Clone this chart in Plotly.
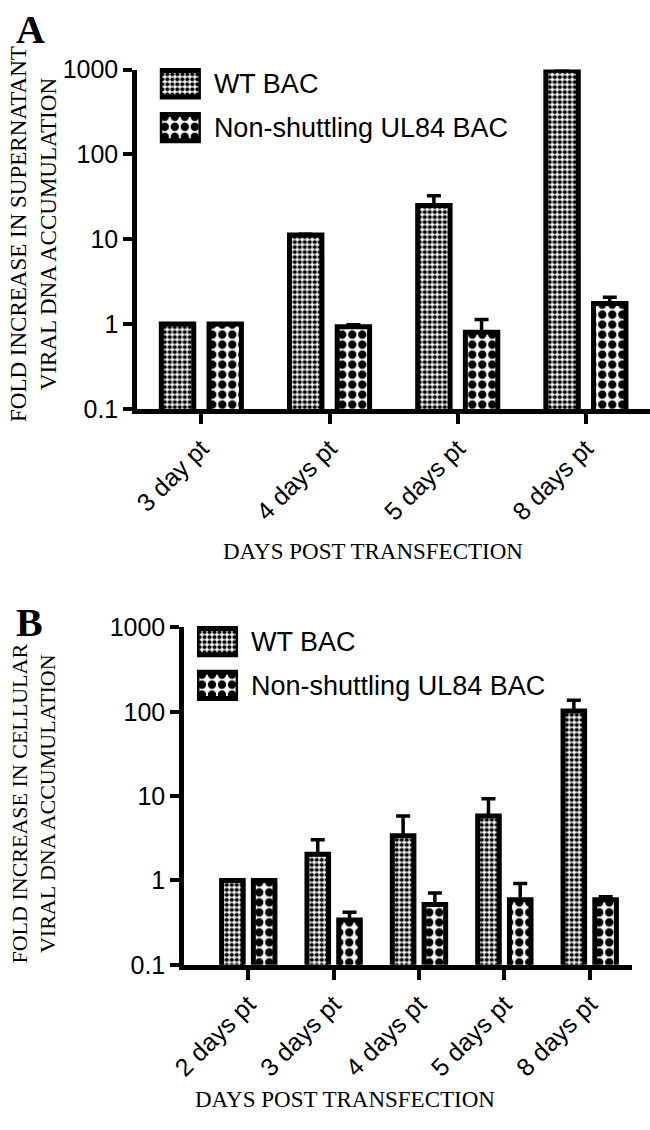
import plotly.graph_objects as go

# ---------------- data ----------------
series_names = ["WT BAC", "Non-shuttling UL84 BAC"]

cats_a = ["3 day pt", "4 days pt", "5 days pt", "8 days pt"]
wt_a = [1.0, 11.2, 25.0, 980.0]
wt_a_err = [0.0, 0.3, 7.5, 10.0]
ns_a = [1.0, 0.93, 0.80, 1.75]
ns_a_err = [0.0, 0.05, 0.33, 0.32]

cats_b = ["2 days pt", "3 days pt", "4 days pt", "5 days pt", "8 days pt"]
wt_b = [1.0, 2.05, 3.4, 5.8, 102.0]
wt_b_err = [0.0, 1.0, 2.4, 3.5, 35.0]
ns_b = [1.0, 0.34, 0.52, 0.59, 0.59]
ns_b_err = [0.0, 0.08, 0.19, 0.33, 0.05]

y_tickvals = [0.1, 1, 10, 100, 1000]
y_ticktext = ["0.1", "1", "10", "100", "1000"]

ytitle_a = "FOLD INCREASE IN SUPERNATANT<br>VIRAL DNA ACCUMULATION"
ytitle_b = "FOLD INCREASE IN CELLULAR<br>VIRAL DNA ACCUMULATION"
xtitle = "DAYS POST TRANSFECTION"

# ---------------- styles ----------------
W, H = 650, 1130
SANS = "Liberation Sans, Arial, sans-serif"
SERIF = "Liberation Serif, Times New Roman, serif"

SOLID = 0.55
fine = dict(shape=".", size=5, solidity=SOLID, fgcolor="black", bgcolor="white", fgopacity=1)
coarse = dict(shape=".", size=10, solidity=SOLID, fgcolor="black", bgcolor="white", fgopacity=1)
OUTLINE = 5


def err(arr):
    return dict(type="data", array=arr, arrayminus=[0] * len(arr), symmetric=False,
                color="black", thickness=3.5, width=7)


fig = go.Figure()

for (cats, wt, wte, ns, nse, xa, ya) in [
    (cats_a, wt_a, wt_a_err, ns_a, ns_a_err, "x", "y"),
    (cats_b, wt_b, wt_b_err, ns_b, ns_b_err, "x2", "y2"),
]:
    for name, vals, errs, pat in [(series_names[0], wt, wte, fine),
                                  (series_names[1], ns, nse, coarse)]:
        fig.add_trace(go.Bar(
            x=cats, y=vals, name=name, xaxis=xa, yaxis=ya, showlegend=False,
            marker=dict(color="white", line=dict(color="black", width=OUTLINE), pattern=pat),
            error_y=err(errs),
        ))

# custom legend keys (large swatches) on small auxiliary axes
for xa, ya in [("x3", "y3"), ("x4", "y4")]:
    fig.add_trace(go.Bar(
        x=[1, 1], y=series_names, orientation="h", xaxis=xa, yaxis=ya,
        showlegend=False, width=0.6, hoverinfo="skip",
        marker=dict(color="white", line=dict(color="black", width=OUTLINE),
                    pattern=dict(shape=".", size=[fine["size"], coarse["size"]],
                                 solidity=SOLID, fgcolor="black", bgcolor="white",
                                 fgopacity=1)),
    ))


def px_x(a, b):
    return [a / W, b / W]


def px_y(top, bottom):
    return [1 - bottom / H, 1 - top / H]


xcommon = dict(type="category", showline=True, linewidth=5, linecolor="black",
               ticks="outside", ticklen=10, tickwidth=4, tickcolor="black",
               tickangle=-45, tickfont=dict(family=SANS, size=25, color="black"),
               showgrid=False, zeroline=False, fixedrange=True)
ycommon = dict(type="log", range=[-1, 3], tickvals=y_tickvals, ticktext=y_ticktext,
               showline=True, linewidth=5, linecolor="black", ticks="outside",
               ticklen=9, tickwidth=4, tickcolor="black",
               tickfont=dict(family=SANS, size=25, color="black"),
               showgrid=False, zeroline=False, fixedrange=True)

leg_x = dict(range=[0, 1], visible=False, fixedrange=True)
leg_y = dict(type="category", range=[1.5, -0.5], side="right", showline=False,
             ticks="", showgrid=False, zeroline=False, fixedrange=True,
             ticklabelstandoff=12,
             tickfont=dict(family=SANS, size=27, color="black"))

fig.update_layout(
    width=W, height=H, margin=dict(l=0, r=0, t=0, b=0),
    paper_bgcolor="white", plot_bgcolor="white",
    barmode="group", bargap=0.256, bargroupgap=0.32,
    showlegend=False,
    xaxis=dict(xcommon, domain=px_x(126, 650), anchor="y", range=[-0.5, 3.5]),
    yaxis=dict(ycommon, domain=px_y(57, 405), anchor="x"),
    xaxis2=dict(xcommon, domain=px_x(174, 632), anchor="y2", range=[-0.75, 4.5]),
    yaxis2=dict(ycommon, domain=px_y(629, 975), anchor="x2"),
    xaxis3=dict(leg_x, domain=px_x(149, 191), anchor="y3"),
    yaxis3=dict(leg_y, domain=px_y(49, 139), anchor="x3"),
    xaxis4=dict(leg_x, domain=px_x(187, 229), anchor="y4"),
    yaxis4=dict(leg_y, domain=px_y(621, 711), anchor="x4"),
)

annotations = [
    dict(text="<b>A</b>", x=0 / W, y=1 - 16 / H, xanchor="left", yanchor="middle",
         font=dict(family=SERIF, size=40, color="black")),
    dict(text="<b>B</b>", x=0 / W, y=1 - 624 / H, xanchor="left", yanchor="middle",
         font=dict(family=SERIF, size=40, color="black")),
    dict(text=ytitle_a, x=20 / W, y=1 - 226 / H, xanchor="center", yanchor="middle",
         textangle=-90, font=dict(family=SERIF, size=23, color="black")),
    dict(text=ytitle_b, x=20 / W, y=1 - 810 / H, xanchor="center", yanchor="middle",
         textangle=-90, font=dict(family=SERIF, size=22, color="black")),
    dict(text=xtitle, x=367 / W, y=1 - 551 / H, xanchor="center", yanchor="middle",
         font=dict(family=SERIF, size=23, color="black")),
    dict(text=xtitle, x=338 / W, y=1 - 1113 / H, xanchor="center", yanchor="middle",
         font=dict(family=SERIF, size=23, color="black")),
]
for a in annotations:
    a.update(xref="paper", yref="paper", showarrow=False)
fig.update_layout(annotations=annotations)

fig.write_html("out.html", config={"displayModeBar": False},
               post_script="document.body.style.margin='0';")
